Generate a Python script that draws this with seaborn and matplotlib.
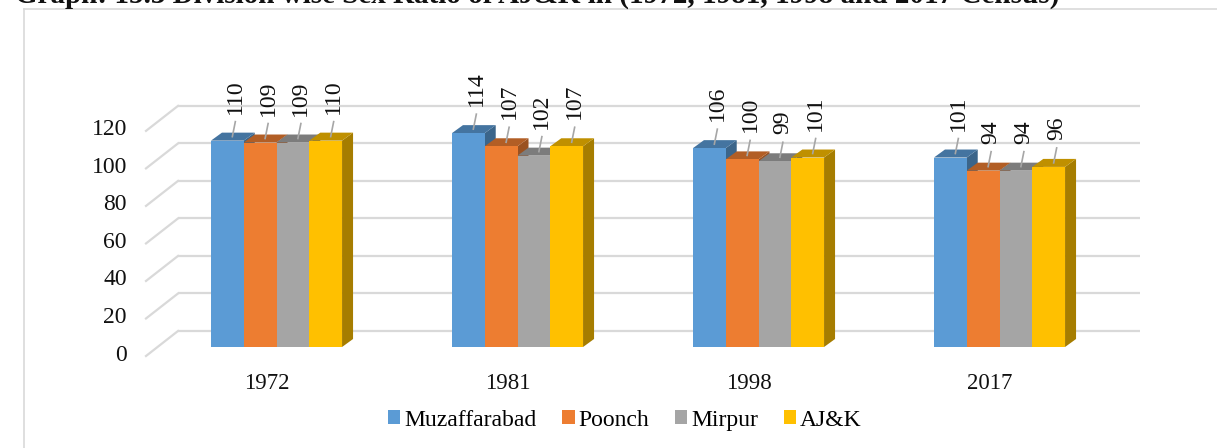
import matplotlib
matplotlib.use("Agg")
import matplotlib.pyplot as plt
from matplotlib.lines import Line2D
from matplotlib.patches import Patch, Polygon
import numpy as np
import pandas as pd
import seaborn as sns

# chart data
years = ["1972", "1981", "1998", "2017"]
divisions = ["Muzaffarabad", "Poonch", "Mirpur", "AJ&K"]
muzaffarabad = [110, 114, 106, 101]
poonch = [109, 107, 100, 94]
mirpur = [109, 102, 99, 94]
ajk = [110, 107, 101, 96]
y_ticks = [0, 20, 40, 60, 80, 100, 120]

colors = ["#5B9BD5", "#ED7D31", "#A5A5A5", "#FFC000"]
title = "Graph: 15.3 Division wise Sex Ratio of AJ&K in (1972, 1981, 1998 and 2017 Census)"

df = pd.DataFrame({
    "year": np.repeat(years, len(divisions)),
    "division": divisions * len(years),
    "ratio": np.array([muzaffarabad, poonch, mirpur, ajk]).T.ravel(),
})

plt.rcParams["font.family"] = ["Liberation Serif", "DejaVu Serif"]

W, H = 1217, 448
fig = plt.figure(figsize=(W / 100, H / 100), dpi=100)
ax = fig.add_axes([0, 0, 1, 1])

sns.barplot(data=df, x="year", y="ratio", hue="division", hue_order=divisions,
            palette=colors, width=0.544, saturation=1, legend=False,
            edgecolor="none", linewidth=0, ax=ax)

# pixel layout of the (pseudo 3d) plot area
px_per_cat = 241.0
cat0_px = 276.5
base_px = 347.0
px_per_unit = 1.876
ax.set_xlim(-cat0_px / px_per_cat, (W - cat0_px) / px_per_cat)
ax.set_ylim((base_px - H) / px_per_unit, base_px / px_per_unit)
ax.set_axis_off()

def dxp(p):
    return p / px_per_cat

def dyp(p):
    return p / px_per_unit

# back wall gridlines with floor stubs
x_back = dxp(178 - cat0_px)
x_front = dxp(146 - cat0_px)
x_right = dxp(1140 - cat0_px)
grid_c = "#D9D9D9"
for v in y_ticks:
    yb = v + dyp(16)
    yf = yb - dyp(25)
    ax.plot([x_back, x_right], [yb, yb], color=grid_c, lw=1.6, zorder=1,
            solid_capstyle="butt")
    ax.plot([x_front, x_back], [yf, yb], color=grid_c, lw=1.6, zorder=1)
    ax.text(x_front - dxp(19), yf + dyp(1), str(v), ha="right", va="center",
            fontsize=17, color="#111111")

# depth faces for the bars
depth_x, depth_y = dxp(11), dyp(8)

def shade(c, f):
    r, g, b = matplotlib.colors.to_rgb(c)
    return (r * f, g * f, b * f)

bars = sorted(ax.patches, key=lambda p: p.get_x())
for k, p in enumerate(bars):
    x0, w, h = p.get_x(), p.get_width(), p.get_height()
    x1 = x0 + w
    c = p.get_facecolor()
    z = 3 + 3 * k
    top = Polygon([(x0, h), (x1, h), (x1 + depth_x, h + depth_y), (x0 + depth_x, h + depth_y)],
                  closed=True, fc=shade(c, 0.75), ec="none", zorder=z)
    side = Polygon([(x1, 0), (x1 + depth_x, depth_y), (x1 + depth_x, h + depth_y), (x1, h)],
                   closed=True, fc=shade(c, 0.65), ec="none", zorder=z)
    ax.add_patch(side)
    ax.add_patch(top)
    p.set_zorder(z + 1)

    cx = x0 + w / 2
    ax.plot([cx + dxp(5), cx + dxp(8)], [h + dyp(4), h + dyp(19)],
            color="#A6A6A6", lw=1.2, zorder=z + 2)
    ax.text(cx + dxp(8), h + dyp(27), f"{h:.0f}", rotation=90,
            ha="center", va="bottom", fontsize=17, color="#111111", zorder=50)

# category labels
for i, yr in enumerate(years):
    ax.text(i - dxp(10), dyp(base_px - 383), yr, ha="center", va="center",
            fontsize=16.5, color="#111111")

# legend
handles = [Patch(facecolor=c, edgecolor="none", label=d) for c, d in zip(colors, divisions)]
fig.legend(handles=handles, loc="center", bbox_to_anchor=(625 / W, 1 - 420 / H),
           ncol=4, frameon=False, fontsize=17, handlelength=0.51, handleheight=0.51,
           handletextpad=0.17, columnspacing=1.1, borderpad=0)

# chart frame (top and left edges visible)
fig.add_artist(Line2D([24 / W, 1.0], [1 - 9.5 / H, 1 - 9.5 / H], color="#D9D9D9",
                      lw=1.2, transform=fig.transFigure))
fig.add_artist(Line2D([24 / W, 24 / W], [0, 1 - 9.5 / H], color="#D9D9D9",
                      lw=1.2, transform=fig.transFigure))

# title, cut off at the top like the source
fig.text(15 / W, 1 - 3 / H, title, ha="left", va="baseline", fontsize=21,
         fontweight="bold", color="#111111")

fig.savefig("out.png", dpi=100)
